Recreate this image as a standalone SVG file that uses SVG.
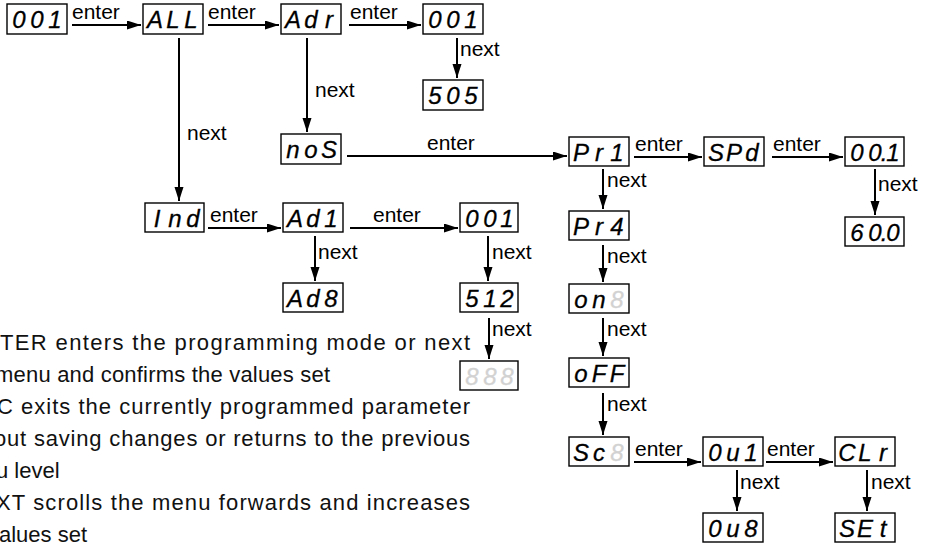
<svg xmlns="http://www.w3.org/2000/svg" width="934" height="545" viewBox="0 0 934 545">
<style>
.box{fill:#fff;stroke:#000;stroke-width:1.4}
.seg{font-family:"Liberation Sans",Arial,sans-serif;font-style:italic;font-size:24px;text-anchor:middle;stroke-width:0.3}
.dim{fill:#d2d2d2;stroke:#d2d2d2}
.lit{fill:#000;stroke:#000}
.lbl{font-family:"Liberation Sans",Arial,sans-serif;font-size:21px;fill:#000}
.par{font-family:"Liberation Sans",Arial,sans-serif;font-size:22px;fill:#111}
.conn line{stroke:#000;stroke-width:2;fill:none;marker-end:url(#ah)}
</style>
<defs>
<marker id="ah" markerUnits="userSpaceOnUse" markerWidth="15" markerHeight="10" refX="14" refY="4.5" orient="auto">
<path d="M0,0 L14,4.5 L0,9 z" fill="#000"/>
</marker>
</defs>
<rect width="934" height="545" fill="#fff"/>

<g id="connectors" class="conn">
<line x1="72" y1="25" x2="141" y2="25"/>
<line x1="208" y1="25" x2="279" y2="25"/>
<line x1="349" y1="25" x2="421" y2="25"/>
<line x1="347" y1="156" x2="567" y2="156"/>
<line x1="634" y1="157" x2="702" y2="157"/>
<line x1="772" y1="157" x2="843" y2="157"/>
<line x1="208" y1="228" x2="281" y2="228"/>
<line x1="350" y1="228" x2="458" y2="228"/>
<line x1="634" y1="462" x2="701" y2="462"/>
<line x1="766" y1="462" x2="833" y2="462"/>
<line x1="179" y1="38" x2="179" y2="201"/>
<line x1="307" y1="38" x2="307" y2="132"/>
<line x1="457" y1="38" x2="457" y2="78"/>
<line x1="315" y1="236" x2="315" y2="281"/>
<line x1="488" y1="236" x2="488" y2="281"/>
<line x1="489" y1="318" x2="489" y2="359"/>
<line x1="603" y1="169" x2="603" y2="209"/>
<line x1="603" y1="245" x2="603" y2="282"/>
<line x1="603" y1="318" x2="603" y2="356"/>
<line x1="603" y1="393" x2="603" y2="435"/>
<line x1="875" y1="169" x2="875" y2="215"/>
<line x1="737" y1="470" x2="737" y2="511"/>
<line x1="867" y1="470" x2="867" y2="511"/>
</g>

<g id="labels">
<text class="lbl" x="72" y="19">enter</text>
<text class="lbl" x="208" y="19">enter</text>
<text class="lbl" x="350" y="19">enter</text>
<text class="lbl" x="427" y="150">enter</text>
<text class="lbl" x="635" y="151">enter</text>
<text class="lbl" x="773" y="151">enter</text>
<text class="lbl" x="210" y="222">enter</text>
<text class="lbl" x="373" y="222">enter</text>
<text class="lbl" x="635" y="456">enter</text>
<text class="lbl" x="767" y="456">enter</text>
<text class="lbl" x="187" y="140">next</text>
<text class="lbl" x="315" y="97">next</text>
<text class="lbl" x="460" y="56">next</text>
<text class="lbl" x="318" y="259">next</text>
<text class="lbl" x="492" y="259">next</text>
<text class="lbl" x="492" y="336">next</text>
<text class="lbl" x="607" y="187">next</text>
<text class="lbl" x="607" y="263">next</text>
<text class="lbl" x="607" y="336">next</text>
<text class="lbl" x="607" y="411">next</text>
<text class="lbl" x="878" y="191">next</text>
<text class="lbl" x="740" y="489">next</text>
<text class="lbl" x="871" y="489">next</text>
</g>

<g id="n-001a" transform="translate(7,4)"><rect class="box" width="60" height="30"/><text class="seg lit" x="12 30 48" y="24">001</text></g>
<g id="n-ALL" transform="translate(143,4)"><rect class="box" width="60" height="30"/><text class="seg lit" x="12 30 48" y="24">ALL</text></g>
<g id="n-Adr" transform="translate(281,4)"><rect class="box" width="60" height="30"/><text class="seg lit" x="12 30 48" y="24">Adr</text></g>
<g id="n-001b" transform="translate(423,4)"><rect class="box" width="60" height="30"/><text class="seg lit" x="12 30 48" y="24">001</text></g>
<g id="n-505" transform="translate(423,80)"><rect class="box" width="60" height="30"/><text class="seg lit" x="12 30 48" y="24">505</text></g>
<g id="n-noS" transform="translate(281,134)"><rect class="box" width="60" height="30"/><text class="seg lit" x="12 30 48" y="24">noS</text></g>
<g id="n-Pr1" transform="translate(569,137)"><rect class="box" width="60" height="29"/><text class="seg lit" x="12 30 48" y="24">Pr1</text></g>
<g id="n-SPd" transform="translate(704,137)"><rect class="box" width="60" height="29"/><text class="seg lit" x="12 30 48" y="24">SPd</text></g>
<g id="n-001c" transform="translate(845,137)"><rect class="box" width="59" height="29"/><text class="seg lit" x="12 30 39 48" y="24">00.1</text></g>
<g id="n-600" transform="translate(845,217)"><rect class="box" width="59" height="29"/><text class="seg lit" x="12 30 39 48" y="24">60.0</text></g>
<g id="n-Ind" transform="translate(145,203)"><rect class="box" width="59" height="29"/><text class="seg lit" x="12 30 48" y="24">Ind</text></g>
<g id="n-Ad1" transform="translate(283,203)"><rect class="box" width="60" height="29"/><text class="seg lit" x="12 30 48" y="24">Ad1</text></g>
<g id="n-001d" transform="translate(460,203)"><rect class="box" width="58" height="29"/><text class="seg lit" x="12 30 47" y="24">001</text></g>
<g id="n-Ad8" transform="translate(283,283)"><rect class="box" width="60" height="29"/><text class="seg lit" x="12 30 48" y="24">Ad8</text></g>
<g id="n-512" transform="translate(460,283)"><rect class="box" width="58" height="29"/><text class="seg lit" x="12 30 47" y="24">512</text></g>
<g id="n-dash" transform="translate(460,361)"><rect class="box" width="58" height="29"/><text class="seg dim" x="12 30 47" y="24">888</text></g>
<g id="n-Pr4" transform="translate(569,211)"><rect class="box" width="60" height="29"/><text class="seg lit" x="12 30 48" y="24">Pr4</text></g>
<g id="n-on" transform="translate(569,284)"><rect class="box" width="60" height="29"/><text class="seg" x="12 30 48" y="24"><tspan class="lit">on</tspan><tspan class="dim">8</tspan></text></g>
<g id="n-oFF" transform="translate(569,358)"><rect class="box" width="60" height="29"/><text class="seg lit" x="12 30 48" y="24">oFF</text></g>
<g id="n-Sc" transform="translate(569,437)"><rect class="box" width="60" height="29"/><text class="seg" x="12 30 48" y="24"><tspan class="lit">Sc</tspan><tspan class="dim">8</tspan></text></g>
<g id="n-0u1" transform="translate(703,437)"><rect class="box" width="60" height="29"/><text class="seg lit" x="12 30 48" y="24">0u1</text></g>
<g id="n-CLr" transform="translate(835,437)"><rect class="box" width="60" height="29"/><text class="seg lit" x="12 30 48" y="24">CLr</text></g>
<g id="n-0u8" transform="translate(703,513)"><rect class="box" width="60" height="29"/><text class="seg lit" x="12 30 48" y="24">0u8</text></g>
<g id="n-SEt" transform="translate(835,513)"><rect class="box" width="60" height="29"/><text class="seg lit" x="12 30 48" y="24">SEt</text></g>

<g id="legend">
<text class="par" x="0" y="350" textLength="470" lengthAdjust="spacing">TER enters the programming mode or next</text>
<text class="par" x="-5" y="382" textLength="335" lengthAdjust="spacing">menu and confirms the values set</text>
<text class="par" x="-3" y="414" textLength="473" lengthAdjust="spacing">C exits the currently programmed parameter</text>
<text class="par" x="-6" y="446" textLength="476" lengthAdjust="spacing">out saving changes or returns to the previous</text>
<text class="par" x="-4" y="478">u level</text>
<text class="par" x="-4" y="510" textLength="474" lengthAdjust="spacing">XT  scrolls the menu forwards and increases</text>
<text class="par" x="-1" y="542">alues set</text>
</g>
</svg>
